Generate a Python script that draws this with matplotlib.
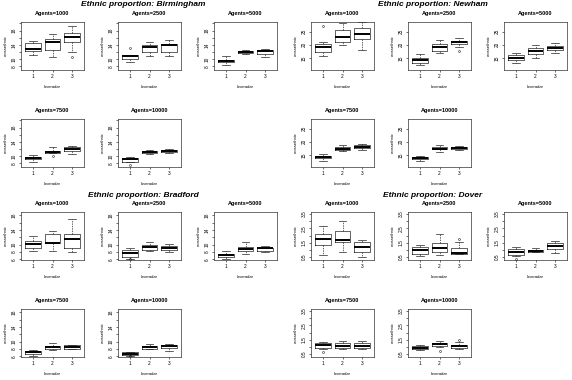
import matplotlib.pyplot as plt

# boxplot stats per panel: [whislo, q1, med, q3, whishi] for loveradar 1..3
agents = [1000, 2500, 5000, 7500, 10000]
loveradar = [1, 2, 3]

birmingham = [
    [[11.1, 12.2, 12.75, 14.5, 15.2], [10.65, 12.5, 14.9, 15.7, 17.0], [12.0, 14.75, 16.1, 17.2, 19.3]],
    [[9.2, 10.2, 10.8, 11.3, 11.3], [10.8, 12.0, 13.4, 14.1, 14.75], [10.9, 12.0, 14.0, 14.3, 15.4]],
    [[8.4, 9.2, 9.5, 9.9, 10.8], [11.5, 11.75, 12.0, 12.3, 12.7], [10.65, 11.6, 12.2, 12.7, 12.9]],
    [[8.5, 9.1, 9.5, 9.8, 10.3], [11.0, 11.0, 11.2, 11.5, 12.6], [10.75, 11.6, 12.1, 12.6, 13.0]],
    [[8.3, 8.5, 9.1, 9.4, 9.75], [10.6, 11.0, 11.3, 11.5, 11.85], [10.9, 11.2, 11.6, 11.85, 12.1]],
]
birmingham_fliers = {(0, 2): [10.65], (1, 0): [13.1], (3, 1): [10.1], (4, 0): [7.6]}

newham = [
    [[15.8, 17.4, 19.1, 20.5, 21.1], [20.1, 21.1, 23.1, 25.5, 28.2], [18.1, 22.1, 24.2, 26.2, 28.5]],
    [[12.5, 13.4, 14.5, 15.1, 16.7], [16.9, 17.8, 19.1, 20.2, 21.8], [19.1, 20.5, 21.1, 21.4, 22.7]],
    [[13.4, 14.2, 15.1, 16.1, 17.1], [15.1, 16.7, 17.8, 18.7, 20.1], [17.1, 18.1, 18.9, 19.5, 20.7]],
    [[13.0, 13.8, 14.4, 14.7, 15.3], [16.5, 16.9, 17.5, 18.1, 18.7], [17.1, 17.9, 18.25, 18.7, 19.4]],
    [[13.0, 13.5, 14.0, 14.4, 14.6], [16.2, 17.25, 17.5, 18.1, 19.0], [16.9, 17.25, 17.7, 18.1, 18.5]],
]
newham_fliers = {(0, 0): [27.1], (1, 2): [17.8]}

bradford = [
    [[8.3, 9.2, 10.2, 11.1, 12.3], [8.3, 10.4, 10.5, 12.8, 13.8], [7.9, 9.2, 11.6, 12.8, 17.1]],
    [[6.2, 6.5, 7.65, 8.4, 9.2], [8.3, 8.6, 9.35, 10.0, 10.65], [8.1, 8.6, 9.2, 9.5, 10.2]],
    [[6.0, 6.5, 7.1, 7.5, 8.3], [7.5, 8.3, 8.8, 9.35, 10.65], [7.9, 8.3, 8.95, 9.2, 9.5]],
    [[6.2, 6.65, 7.1, 7.5, 7.8], [7.6, 8.1, 8.45, 8.75, 9.7], [8.0, 8.1, 8.6, 8.95, 9.2]],
    [[6.2, 6.4, 6.75, 7.15, 7.3], [8.0, 8.1, 8.45, 8.75, 9.4], [7.5, 8.3, 8.75, 9.2, 9.4]],
]
bradford_fliers = {(1, 0): [5.95], (4, 0): [5.95]}

dover = [
    [[0.64, 1.34, 1.76, 2.11, 2.69], [0.87, 1.57, 1.71, 2.34, 3.04], [0.52, 0.87, 1.18, 1.53, 1.69]],
    [[0.59, 0.71, 0.99, 1.18, 1.34], [0.66, 0.83, 1.11, 1.48, 2.11], [0.70, 0.71, 0.76, 1.11, 1.57]],
    [[0.55, 0.66, 0.83, 1.06, 1.18], [0.83, 0.87, 0.94, 1.01, 1.13], [0.78, 1.06, 1.25, 1.48, 1.64]],
    [[0.84, 0.96, 1.12, 1.26, 1.36], [0.89, 0.96, 1.08, 1.24, 1.42], [0.84, 0.91, 1.08, 1.26, 1.42]],
    [[0.78, 0.84, 0.96, 1.08, 1.15], [1.03, 1.08, 1.19, 1.24, 1.42], [0.89, 0.91, 1.08, 1.15, 1.31]],
]
dover_fliers = {(1, 2): [1.76], (2, 0): [0.4], (3, 0): [0.62], (4, 1): [0.73], (4, 2): [1.49]}

# y axis per city: limits, ticks, labels (R drops the labels that would overlap)
bham_ylim = (7.0, 20.4)
bham_ticks = [8, 10, 12, 14, 16, 18, 20]
bham_labels = ['8', '10', '', '14', '', '18', '']
newham_ylim = (10.6, 28.6)
newham_ticks = [15, 20, 25]
newham_labels = ['15', '20', '25']
brad_ylim = (5.8, 18.9)
brad_ticks = [6, 8, 10, 12, 14, 16, 18]
brad_labels = ['6', '8', '10', '', '14', '', '18']
dover_ylim = (0.3, 3.64)
dover_ticks = [0.5, 1.0, 1.5, 2.0, 2.5, 3.0, 3.5]
dover_labels = ['0.5', '', '1.5', '', '2.5', '', '3.5']

W, H = 572, 380
plt.rcParams['font.family'] = ['Liberation Sans', 'DejaVu Sans']
fig = plt.figure(figsize=(W / 100, H / 100), dpi=100)

cities = [
    ('Birmingham', birmingham, birmingham_fliers, bham_ylim, bham_ticks, bham_labels, 0, 0),
    ('Newham', newham, newham_fliers, newham_ylim, newham_ticks, newham_labels, 290, 0),
    ('Bradford', bradford, bradford_fliers, brad_ylim, brad_ticks, brad_labels, 0, 190),
    ('Dover', dover, dover_fliers, dover_ylim, dover_ticks, dover_labels, 290, 190),
]

col_x = [21, 118, 214]
row_y = [22, 119]
pw, ph = 63, 48

for name, stats, fliers, ylim, yt, yl, qx, qy in cities:
    fig.text((qx + 143) / W, 1 - (qy + 5) / H, 'Ethnic proportion: ' + name,
             ha='center', va='center', fontsize=6, fontweight='bold', style='italic')
    for k in range(5):
        r, c = divmod(k, 3)
        left = qx + col_x[c]
        top = qy + row_y[r]
        ax = fig.add_axes([left / W, 1 - (top + ph) / H, pw / W, ph / H])
        bs = []
        for j, s in enumerate(stats[k]):
            bs.append(dict(whislo=s[0], q1=s[1], med=s[2], q3=s[3], whishi=s[4],
                           fliers=fliers.get((k, j), [])))
        ax.bxp(bs, positions=loveradar, widths=0.8, capwidths=0.4,
               boxprops=dict(color='#222222', lw=0.5),
               whiskerprops=dict(color='#222222', lw=0.5, ls=(0, (2, 1.5))),
               capprops=dict(color='#222222', lw=0.5),
               medianprops=dict(color='black', lw=1.4, solid_capstyle='butt'),
               flierprops=dict(marker='o', mfc='none', mec='black', ms=1.4, mew=0.35))
        ax.set_xlim(0.38, 3.62)
        ax.set_ylim(*ylim)
        ax.set_xticks(loveradar)
        ax.set_xticklabels([str(v) for v in loveradar])
        ax.set_yticks(yt)
        ax.set_yticklabels(yl, rotation=90, va='center')
        ax.tick_params(labelsize=3.4, length=1.5, width=0.4, pad=1.5)
        for sp in ax.spines.values():
            sp.set_linewidth(0.5)
            sp.set_color('#333333')
        ax.set_title('Agents=%d' % agents[k], fontsize=4, fontweight='bold', pad=5)
        ax.set_xlabel('loveradar', fontsize=3, labelpad=4)
        ax.set_ylabel('crossethnic', fontsize=3, labelpad=3)

fig.savefig('out.png', dpi=100)
